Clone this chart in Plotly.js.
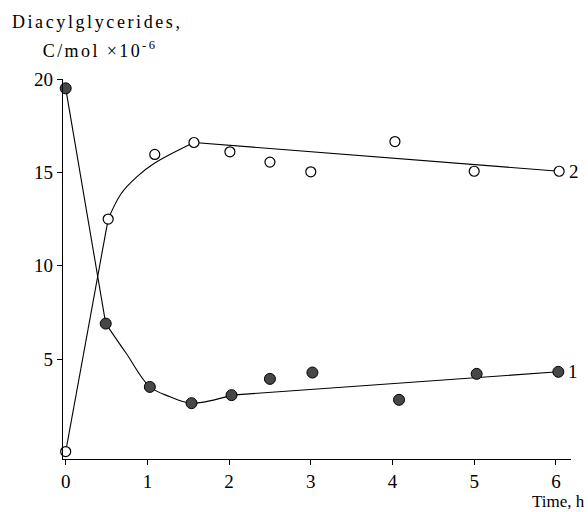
<!DOCTYPE html>
<html>
<head>
<meta charset="utf-8">
<script src="https://cdn.plot.ly/plotly-3.0.1.min.js"></script>
<style>html,body{margin:0;padding:0;background:#fff;}</style>
</head>
<body>
<div id="chart" style="width:588px;height:512px;"></div>
<script>
// Measured points
const time1 = [0, 0.49, 1.03, 1.54, 2.03, 2.50, 3.02, 4.08, 5.03, 6.03];
const dag1  = [19.5, 6.9, 3.51, 2.64, 3.07, 3.94, 4.28, 2.82, 4.21, 4.32];
const time2 = [0, 0.52, 1.09, 1.57, 2.01, 2.50, 3.00, 4.03, 5.00, 6.04];
const dag2  = [0.05, 12.5, 15.96, 16.6, 16.1, 15.55, 15.03, 16.65, 15.06, 15.06];
// Fitted curves (straight part, curved part, straight part)
const fit1aX = [0, 0.49];
const fit1aY = [19.5, 6.9];
const fit1bX = [0.49, 0.74, 1.03, 1.27, 1.54, 2.03];
const fit1bY = [6.9, 5.31, 3.51, 3.0, 2.64, 3.07];
const fit1cX = [2.03, 6.03];
const fit1cY = [3.07, 4.32];
const fit2aX = [0, 0.52];
const fit2aY = [0.05, 12.5];
const fit2bX = [0.52, 0.68, 0.87, 1.09, 1.57];
const fit2bY = [12.5, 13.87, 14.76, 15.5, 16.6];
const fit2cX = [1.57, 6.04];
const fit2cY = [16.6, 15.06];
const xTicks = [0, 1, 2, 3, 4, 5, 6];
const yTicks = [5, 10, 15, 20];
const seriesLabels = ['1', '2'];

const serif = '"Liberation Serif"';

function lineTrace(x, y, shape) {
  return {x: x, y: y, mode: 'lines', hoverinfo: 'skip', cliponaxis: false,
    line: {color: '#000', width: 1.1, shape: shape, smoothing: 1}};
}

const traces = [
  lineTrace(fit1aX, fit1aY, 'linear'),
  lineTrace(fit1bX, fit1bY, 'spline'),
  lineTrace(fit1cX, fit1cY, 'linear'),
  lineTrace(fit2aX, fit2aY, 'linear'),
  lineTrace(fit2bX, fit2bY, 'spline'),
  lineTrace(fit2cX, fit2cY, 'linear'),
  {x: time1, y: dag1, mode: 'markers', cliponaxis: false,
   marker: {size: 11, color: '#474747', line: {color: '#000', width: 1}}},
  {x: time2, y: dag2, mode: 'markers', cliponaxis: false,
   marker: {size: 10, color: '#fff', line: {color: '#000', width: 1.2}}}
];

const axisCommon = {
  showline: true, linecolor: '#000', linewidth: 1.2,
  ticks: 'outside', ticklen: 5, tickcolor: '#000', tickwidth: 1,
  showgrid: false, zeroline: false,
  tickfont: {family: serif, size: 19, color: '#000'}
};

const layout = {
  width: 588, height: 512,
  margin: {l: 63, r: 17, t: 79, b: 53},
  paper_bgcolor: '#fff', plot_bgcolor: '#fff',
  showlegend: false,
  xaxis: Object.assign({}, axisCommon, {range: [-0.033, 6.185], tickvals: xTicks, ticktext: xTicks.map(String)}),
  yaxis: Object.assign({}, axisCommon, {range: [-0.35, 20.0], tickvals: yTicks, ticktext: yTicks.map(String)}),
  annotations: [
    {text: 'Diacylglycerides,', xref: 'paper', yref: 'paper', x: 0.066, y: 1.150, xanchor: 'center', yanchor: 'middle', showarrow: false, font: {family: serif, size: 18, color: '#000'}},
    {text: 'C/mol ×10<sup>-6</sup>', xref: 'paper', yref: 'paper', x: 0.073, y: 1.078, xanchor: 'center', yanchor: 'middle', showarrow: false, font: {family: serif, size: 18, color: '#000'}},
    {text: 'Time, h', xref: 'paper', yref: 'paper', x: 1.032, y: -0.112, xanchor: 'right', yanchor: 'middle', showarrow: false, font: {family: serif, size: 17, color: '#000'}},
    {text: seriesLabels[0], xref: 'x', yref: 'y', x: time1[time1.length - 1], y: dag1[dag1.length - 1], xanchor: 'left', yanchor: 'middle', xshift: 8, showarrow: false, font: {family: serif, size: 19, color: '#000'}},
    {text: seriesLabels[1], xref: 'x', yref: 'y', x: time2[time2.length - 1], y: dag2[dag2.length - 1], xanchor: 'left', yanchor: 'middle', xshift: 8, showarrow: false, font: {family: serif, size: 19, color: '#000'}}
  ]
};

Plotly.newPlot('chart', traces, layout, {staticPlot: true}).then(function () {
  const texts = document.querySelectorAll('.annotation-text');
  if (texts[0]) texts[0].style.letterSpacing = '2.6px';
  if (texts[1]) texts[1].style.letterSpacing = '2.4px';
});
</script>
</body>
</html>
